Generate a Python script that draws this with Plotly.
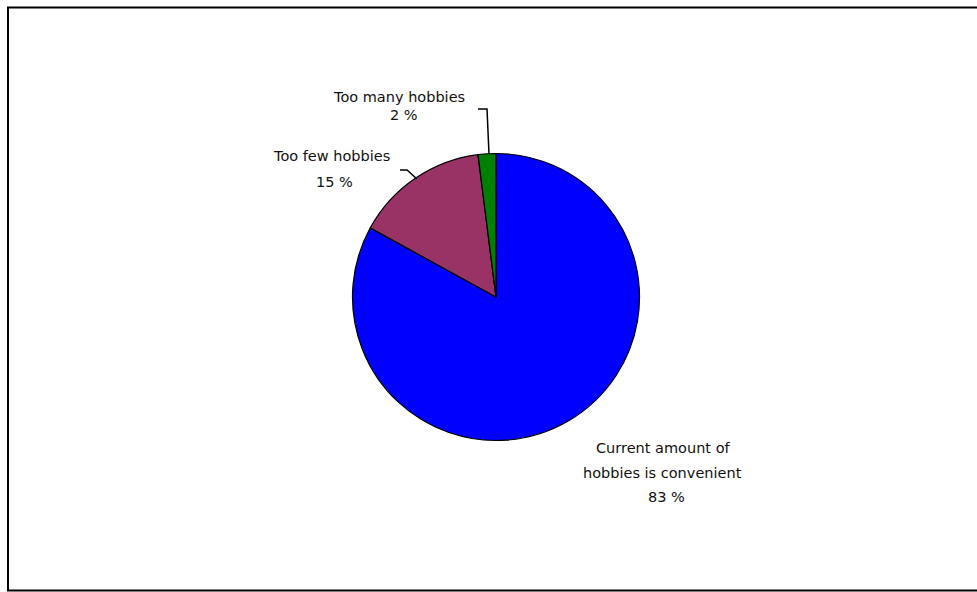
import plotly.graph_objects as go

labels = ["Current amount of hobbies is convenient", "Too few hobbies", "Too many hobbies"]
values = [83, 15, 2]
colors = ["#0000FF", "#993366", "#008000"]
label_lines = [["Current amount of", "hobbies is convenient", "83 %"],
               ["Too few hobbies", "15 %"],
               ["Too many hobbies", "2 %"]]

W, H = 977, 592
cx, cy, r = 496, 297, 143.5

def px(x):
    return x / W

def py(y):
    return 1 - y / H

fig = go.Figure(go.Pie(
    labels=labels, values=values, sort=False, direction="clockwise", rotation=0,
    marker=dict(colors=colors, line=dict(color="black", width=1.2)),
    textinfo="none", hoverinfo="label+percent", showlegend=False,
    domain=dict(x=[px(cx - r), px(cx + r)], y=[py(cy + r), py(cy - r)]),
))

line_pos = [[(663, 448), (662, 473), (666, 497)],
            [(331, 156), (334, 182)],
            [(399, 97), (404, 115)]]
for lines, poss in zip(label_lines, line_pos):
    for txt, (x, y) in zip(lines, poss):
        fig.add_annotation(x=px(x), y=py(y), xref="paper", yref="paper", text=txt,
                           showarrow=False, xanchor="center", yanchor="middle",
                           font=dict(family="DejaVu Sans", size=14.5, color="#111111"))

def path(pts):
    return "M " + " L ".join(f"{px(x)},{py(y)}" for x, y in pts)

fig.add_shape(type="path", xref="paper", yref="paper",
              path=path([(478, 109), (487, 109), (489, 154)]), line=dict(color="black", width=1.5))
fig.add_shape(type="path", xref="paper", yref="paper",
              path=path([(400, 170), (407, 170), (417, 179)]), line=dict(color="black", width=1.5))
fig.add_shape(type="rect", xref="paper", yref="paper",
              x0=px(8), x1=px(1000), y0=py(590.5), y1=py(7.5), line=dict(color="black", width=2))

fig.update_layout(width=W, height=H, margin=dict(l=0, r=0, t=0, b=0),
                  paper_bgcolor="white", plot_bgcolor="white")
fig.write_html("out.html", config={"displayModeBar": False},
               post_script="document.body.style.margin='0px';")
